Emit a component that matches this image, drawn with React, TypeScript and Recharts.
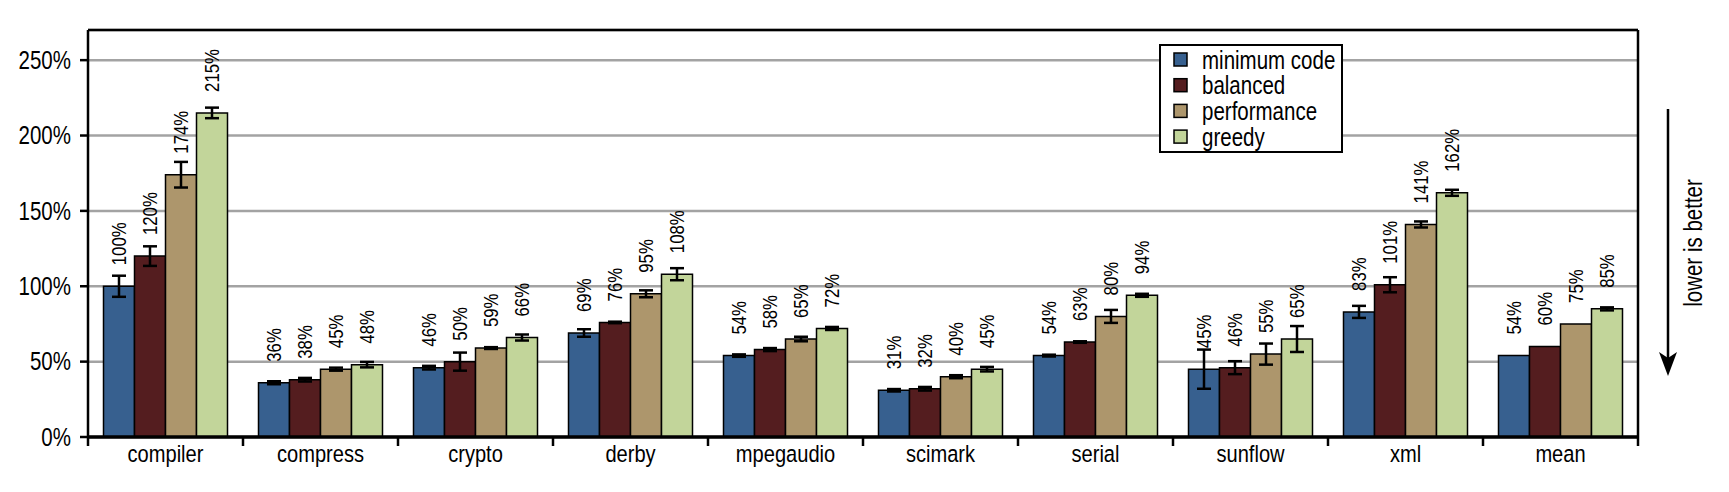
import React from 'react';
import { BarChart, Bar, XAxis, YAxis, CartesianGrid, ErrorBar, LabelList } from 'recharts';

const categories = ['compiler', 'compress', 'crypto', 'derby', 'mpegaudio', 'scimark', 'serial', 'sunflow', 'xml', 'mean'];

const minimumCode = [100, 36, 46, 69, 54, 31, 54, 45, 83, 54];
const balanced = [120, 38, 50, 76, 58, 32, 63, 46, 101, 60];
const performance = [174, 45, 59, 95, 65, 40, 80, 55, 141, 75];
const greedy = [215, 48, 66, 108, 72, 45, 94, 65, 162, 85];

const minimumCodeErr = [7, 1, 1.2, 2.5, 0.8, 0.8, 0.6, 13, 4, null];
const balancedErr = [6.5, 1.2, 6, 0.5, 1, 1.2, 0.5, 4.3, 5, null];
const performanceErr = [8.5, 1, 0.6, 2.3, 1.5, 1, 4.3, 7, 2, null];
const greedyErr = [3.5, 1.8, 2, 4, 1, 1.5, 1, 8.6, 2, 1];

const yTicks = [0, 50, 100, 150, 200, 250];

const series = [
  { key: 'min', name: 'minimum code', color: '#37608f', values: minimumCode, err: minimumCodeErr },
  { key: 'bal', name: 'balanced', color: '#541d1f', values: balanced, err: balancedErr },
  { key: 'perf', name: 'performance', color: '#ad966c', values: performance, err: performanceErr },
  { key: 'greedy', name: 'greedy', color: '#c2d59a', values: greedy, err: greedyErr },
];

const data = categories.map((c, i) => {
  const row: any = { name: c };
  series.forEach((s) => {
    row[s.key] = s.values[i];
    row[s.key + 'Err'] = s.err[i];
  });
  return row;
});

// no Arial Narrow available: squeeze Liberation Sans horizontally
const FONT = "'Liberation Sans', Arial, sans-serif";
const SQUEEZE = 0.82;
const W = 1729;
const H = 492;
const MARGIN = { top: 29, right: 90, bottom: 15, left: 8 };
const Y_AXIS_W = 80;
const PLOT_LEFT = MARGIN.left + Y_AXIS_W;
const PLOT_RIGHT = W - MARGIN.right - 1;
const PLOT_BOTTOM = 437;
const BAND = (PLOT_RIGHT - PLOT_LEFT) / categories.length;

const NarrowText = ({ x, y, rotate = 0, size, anchor = 'start', baseline, children }: any) => (
  <text transform={`translate(${x} ${y}) rotate(${rotate}) scale(${SQUEEZE} 1)`} textAnchor={anchor}
    dominantBaseline={baseline} fontFamily={FONT} fontSize={size} fill="#000">
    {children}
  </text>
);

const ValueLabel = (props: any) => {
  const { x, y, width, value } = props;
  return (
    <NarrowText x={x + width / 2} y={y - 21} rotate={-90} size={20.5} baseline="central">{`${value}%`}</NarrowText>
  );
};

const CategoryTick = (props: any) => {
  const { x, payload, index } = props;
  const left = x - BAND / 2;
  return (
    <g>
      <line x1={left} x2={left} y1={PLOT_BOTTOM} y2={PLOT_BOTTOM + 9} stroke="#000" strokeWidth={2.5} />
      {index === categories.length - 1 && (
        <line x1={x + BAND / 2} x2={x + BAND / 2} y1={PLOT_BOTTOM} y2={PLOT_BOTTOM + 9} stroke="#000" strokeWidth={2.5} />
      )}
      <NarrowText x={x} y={PLOT_BOTTOM + 25} size={24.5} anchor="middle">{payload.value}</NarrowText>
    </g>
  );
};

const ValueTick = (props: any) => {
  const { x, y, payload } = props;
  return <NarrowText x={x} y={y} size={25} anchor="end" baseline="central">{`${payload.value}%`}</NarrowText>;
};

export default function App() {
  return (
    <div style={{ position: 'relative', width: W, height: H, background: '#fff' }}>
      <style>{'body{margin:0}'}</style>
      <BarChart width={W} height={H} data={data} margin={MARGIN} barCategoryGap="10%" barGap={0}>
        <CartesianGrid vertical={false} stroke="#a3a3a3" strokeWidth={2.5} />
        <XAxis dataKey="name" tickLine={false} tick={<CategoryTick />} axisLine={{ stroke: '#000', strokeWidth: 3.5 }} interval={0} height={40} />
        <XAxis xAxisId="top" orientation="top" dataKey="name" tick={false} tickLine={false} axisLine={{ stroke: '#000', strokeWidth: 2.5 }} height={1} />
        <YAxis domain={[0, 270]} ticks={yTicks} width={Y_AXIS_W} tick={<ValueTick />} tickSize={8} tickMargin={9}
          tickLine={{ stroke: '#000', strokeWidth: 2.5 }} axisLine={{ stroke: '#000', strokeWidth: 2.5 }} />
        <YAxis yAxisId="right" orientation="right" domain={[0, 270]} tick={false} tickLine={false} width={1}
          axisLine={{ stroke: '#000', strokeWidth: 2.5 }} />
        {series.map((s) => (
          <Bar key={s.key} dataKey={s.key} name={s.name} fill={s.color} stroke="#000" strokeWidth={1.5} isAnimationActive={false}>
            <ErrorBar dataKey={s.key + 'Err'} direction="y" width={7} stroke="#000" strokeWidth={2.5} />
            <LabelList dataKey={s.key} content={<ValueLabel />} />
          </Bar>
        ))}
      </BarChart>
      <svg width={184} height={109} style={{ position: 'absolute', left: 1159, top: 44 }}>
        <rect x={1} y={1} width={182} height={107} fill="#fff" stroke="#000" strokeWidth={2} />
        {series.map((s, i) => (
          <g key={s.key}>
            <rect x={15} y={9 + i * 25.7} width={13} height={13} fill={s.color} stroke="#000" strokeWidth={1.5} />
            <NarrowText x={43} y={16 + i * 25.7} size={25} baseline="central">{s.name}</NarrowText>
          </g>
        ))}
      </svg>
      <svg width={80} height={H} style={{ position: 'absolute', left: 1640, top: 0 }}>
        <line x1={28} x2={28} y1={109} y2={366} stroke="#000" strokeWidth={2.5} />
        <path d="M19,352 L28,376 L37,352 L28,358 Z" fill="#000" />
        <NarrowText x={53} y={243} rotate={-90} size={25} anchor="middle" baseline="central">lower is better</NarrowText>
      </svg>
    </div>
  );
}
